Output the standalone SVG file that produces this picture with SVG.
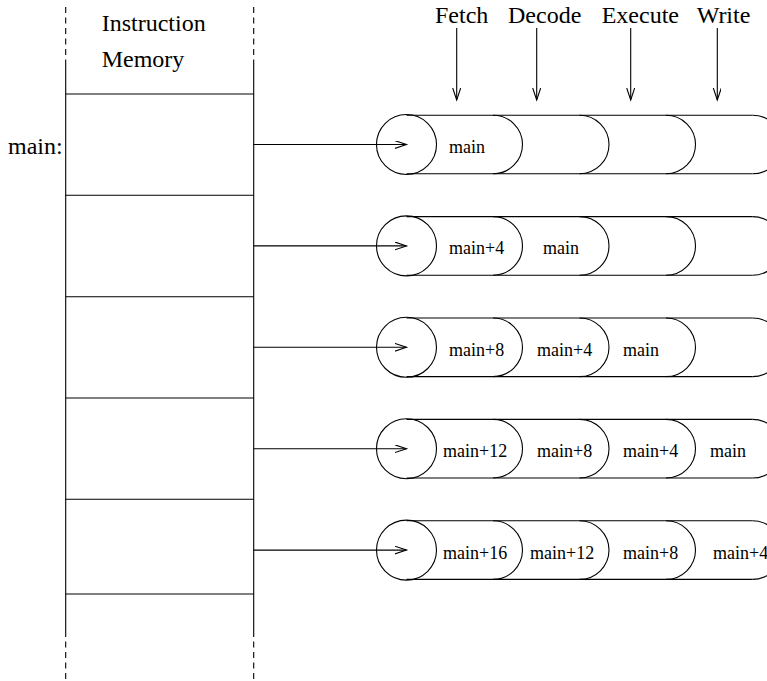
<svg xmlns="http://www.w3.org/2000/svg" width="767" height="681" viewBox="0 0 767 681">
  <style>
    .ln { fill: none; stroke: #000; stroke-width: 1.1; }
    .dash { fill: none; stroke: #000; stroke-width: 1.1; stroke-dasharray: 6 4.5; }
    .big { font-family: "Liberation Serif", "Times New Roman", serif; font-size: 24px; fill: #000; }
    .small { font-family: "Liberation Serif", "Times New Roman", serif; font-size: 18px; fill: #000; }
    .arr { fill: none; stroke: #000; stroke-width: 1.1; marker-end: url(#open); }
  </style>
  <defs>
    <marker id="open" markerUnits="userSpaceOnUse" markerWidth="14" markerHeight="10" refX="12" refY="4" orient="auto">
      <path d="M0,0 L12,4 L0,8" fill="none" stroke="#000" stroke-width="1.1"/>
    </marker>
    <!-- one pipeline tube: entry circle plus four stage segments -->
    <g id="tube">
      <circle cx="406.5" cy="0" r="30" class="ln"/>
      <path class="ln" d="M406.5,-29.3 H752.5 M406.5,29.3 H752.5"/>
      <path class="ln" d="M493,-29.3 A29.5 29.3 0 0 1 493,29.3
                          M579.5,-29.3 A29.5 29.3 0 0 1 579.5,29.3
                          M666,-29.3 A29.5 29.3 0 0 1 666,29.3
                          M752.5,-29.3 A29.5 29.3 0 0 1 752.5,29.3"/>
    </g>
  </defs>

  <rect width="767" height="681" fill="#fff"/>

  <!-- instruction memory column -->
  <g id="memory">
    <path class="dash" d="M65.7,7 V65 M253.7,7 V65 M65.7,631 V681 M253.7,631 V681"/>
    <path class="ln" d="M65.7,65 V631 M253.7,65 V631"/>
    <path class="ln" d="M65.7,94 H253.7 M65.7,195.3 H253.7 M65.7,296.7 H253.7 M65.7,398 H253.7 M65.7,499.3 H253.7 M65.7,594 H253.7"/>
    <text class="big" x="101.7" y="30.5">Instruction</text>
    <text class="big" x="101.7" y="66.5">Memory</text>
    <text class="big" x="8" y="154">main:</text>
  </g>

  <!-- stage headings -->
  <g id="stages">
    <text class="big" x="435" y="23">Fetch</text>
    <text class="big" x="508" y="23">Decode</text>
    <text class="big" x="601.7" y="23">Execute</text>
    <text class="big" x="696.7" y="23">Write</text>
  </g>

  <!-- pipeline snapshots, one per cycle -->
  <g id="cycle1" transform="translate(0,144.5)">
    <use href="#tube"/>
    <text class="small" x="449" y="8.5">main</text>
  </g>
  <g id="cycle2" transform="translate(0,245.9)">
    <use href="#tube"/>
    <text class="small" x="449" y="8.5">main+4</text>
    <text class="small" x="543" y="8.5">main</text>
  </g>
  <g id="cycle3" transform="translate(0,347.3)">
    <use href="#tube"/>
    <text class="small" x="449" y="8.5">main+8</text>
    <text class="small" x="537" y="8.5">main+4</text>
    <text class="small" x="623" y="8.5">main</text>
  </g>
  <g id="cycle4" transform="translate(0,448.7)">
    <use href="#tube"/>
    <text class="small" x="443" y="8.5">main+12</text>
    <text class="small" x="537" y="8.5">main+8</text>
    <text class="small" x="623" y="8.5">main+4</text>
    <text class="small" x="710" y="8.5">main</text>
  </g>
  <g id="cycle5" transform="translate(0,550.1)">
    <use href="#tube"/>
    <text class="small" x="443" y="8.5">main+16</text>
    <text class="small" x="530" y="8.5">main+12</text>
    <text class="small" x="623" y="8.5">main+8</text>
    <text class="small" x="713" y="8.5">main+4</text>
  </g>

  <!-- connectors -->
  <g id="connectors">
    <path class="arr" d="M456.7,28 V100"/>
    <path class="arr" d="M536.7,28 V100"/>
    <path class="arr" d="M630.7,28 V100"/>
    <path class="arr" d="M717.3,28 V100"/>
    <path class="arr" d="M253.7,144.5 H406.5"/>
    <path class="arr" d="M253.7,245.9 H406.5"/>
    <path class="arr" d="M253.7,347.3 H406.5"/>
    <path class="arr" d="M253.7,448.7 H406.5"/>
    <path class="arr" d="M253.7,550.1 H406.5"/>
  </g>
</svg>
